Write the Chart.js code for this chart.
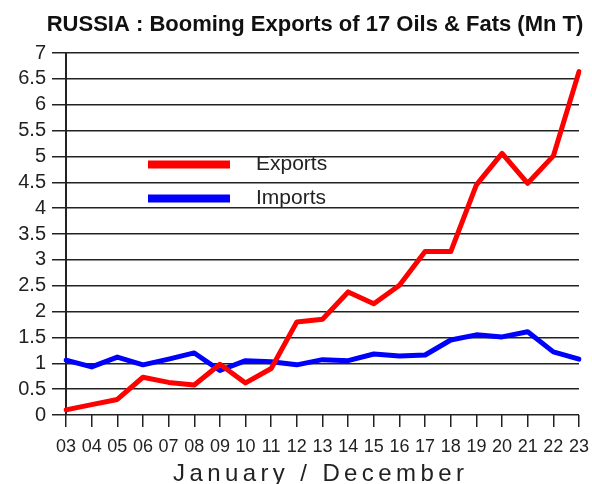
<!DOCTYPE html>
<html>
<head>
<meta charset="utf-8">
<script src="https://cdn.jsdelivr.net/npm/chart.js@4.4.1/dist/chart.umd.min.js"></script>
<style>
html,body{margin:0;padding:0;background:#fff;}
canvas{display:block;}
</style>
</head>
<body>
<canvas id="c" width="592" height="484"></canvas>
<script>
const categories = ['03','04','05','06','07','08','09','10','11','12','13','14','15','16','17','18','19','20','21','22','23'];
const exportsValues = [0.1,0.2,0.3,0.73,0.63,0.58,0.98,0.62,0.9,1.8,1.85,2.38,2.15,2.51,3.16,3.16,4.45,5.06,4.48,5.01,6.64];
const importsValues = [1.06,0.93,1.12,0.97,1.08,1.2,0.86,1.05,1.03,0.97,1.07,1.05,1.18,1.14,1.16,1.45,1.55,1.51,1.61,1.22,1.08];
const seriesNames = ['Exports','Imports'];
const titleText = 'RUSSIA : Booming Exports of 17 Oils & Fats (Mn T)';
const xTitleText = 'January / December';

const FONT = "'Liberation Sans', Arial, sans-serif";

const overlay = {
  id: 'overlay',
  afterDatasetsDraw(chart) {
    const ctx = chart.ctx;
    ctx.save();
    // title
    ctx.fillStyle = '#111';
    ctx.font = 'bold 22px ' + FONT;
    ctx.textAlign = 'center';
    ctx.textBaseline = 'middle';
    ctx.fillText(titleText, 315, 25);
    // legend inside plot
    const rows = [164.5, 198.5];
    chart.data.datasets.forEach((ds, i) => {
      const y = rows[i];
      ctx.strokeStyle = ds.borderColor;
      ctx.lineWidth = 8;
      ctx.lineCap = 'butt';
      ctx.beginPath();
      ctx.moveTo(148, y);
      ctx.lineTo(230, y);
      ctx.stroke();
      ctx.fillStyle = '#222';
      ctx.font = '21px ' + FONT;
      ctx.textBaseline = 'middle';
      ctx.textAlign = 'left';
      ctx.fillText(ds.label, 256, y);
    });
    // x axis title with letter spacing
    ctx.font = '24px ' + FONT;
    ctx.fillStyle = '#222';
    ctx.textAlign = 'left';
    ctx.textBaseline = 'alphabetic';
    try { ctx.letterSpacing = '4.4px'; } catch(e) {}
    ctx.fillText(xTitleText, 173, 481);
    ctx.restore();
  }
};

new Chart(document.getElementById('c'), {
  type: 'line',
  data: {
    labels: categories,
    datasets: [
      { label: seriesNames[0], data: exportsValues, borderColor: '#ff0000', backgroundColor: '#ff0000', borderWidth: 5, pointRadius: 0, tension: 0, borderJoinStyle: 'round', borderCapStyle: 'round' },
      { label: seriesNames[1], data: importsValues, borderColor: '#0000ff', backgroundColor: '#0000ff', borderWidth: 5, pointRadius: 0, tension: 0, borderJoinStyle: 'round', borderCapStyle: 'round' }
    ]
  },
  options: {
    responsive: false,
    animation: false,
    devicePixelRatio: 1,
    layout: { padding: { left: 0, right: 13, top: 53, bottom: 0 } },
    plugins: {
      legend: { display: false },
      tooltip: { enabled: false },
      title: { display: false }
    },
    scales: {
      x: {
        offset: false,
        grid: { drawOnChartArea: false, drawTicks: true, tickLength: 12, color: '#222', lineWidth: 1.5 },
        border: { display: false },
        ticks: { color: '#222', font: { family: FONT, size: 18 }, maxRotation: 0, autoSkip: false, padding: 9 },
        afterFit(scale) { scale.height = 69; scale.paddingLeft = 0; scale.paddingRight = 0; }
      },
      y: {
        min: 0, max: 7,
        grid: { color: '#222', lineWidth: 1.5, tickLength: 14 },
        border: { display: true, color: '#222', width: 2 },
        ticks: { stepSize: 0.5, autoSkip: false, color: '#222', font: { family: FONT, size: 20, lineHeight: 1 }, padding: 6, callback: v => String(v) },
        afterFit(scale) { scale.width = 66; }
      }
    }
  },
  plugins: [overlay]
});
</script>
</body>
</html>
